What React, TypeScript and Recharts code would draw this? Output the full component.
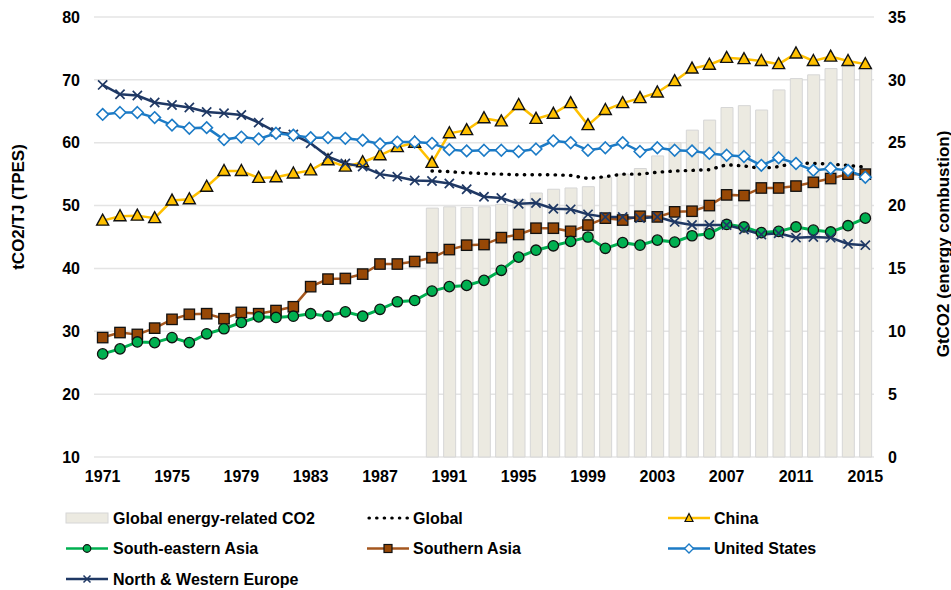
import React from 'react';
import { ComposedChart, Bar, Line, XAxis, YAxis, CartesianGrid } from 'recharts';

const years = [
  1971, 1972, 1973, 1974, 1975, 1976, 1977, 1978, 1979, 1980,
  1981, 1982, 1983, 1984, 1985, 1986, 1987, 1988, 1989, 1990,
  1991, 1992, 1993, 1994, 1995, 1996, 1997, 1998, 1999, 2000,
  2001, 2002, 2003, 2004, 2005, 2006, 2007, 2008, 2009, 2010,
  2011, 2012, 2013, 2014, 2015,
];

// GtCO2 (energy combustion), right axis
const globalCO2 = [
  null, null, null, null, null, null, null, null, null, null,
  null, null, null, null, null, null, null, null, null, 19.8,
  19.9, 19.85, 19.9, 20.1, 20.5, 21.0, 21.3, 21.4, 21.5, 22.25,
  22.5, 22.95, 23.95, 25.0, 26.0, 26.8, 27.8, 27.95, 27.6, 29.2,
  30.1, 30.4, 30.9, 31.05, 31.0,
];

// tCO2/TJ (TPES), left axis
const globalIntensity = [
  null, null, null, null, null, null, null, null, null, null,
  null, null, null, null, null, null, null, null, null, 55.5,
  55.4, 55.2, 55.1, 55.0, 54.9, 54.9, 54.9, 54.8, 54.3, 54.6,
  55.0, 55.0, 55.3, 55.5, 55.6, 55.7, 56.5, 56.3, 55.9, 56.2,
  56.8, 56.7, 56.6, 56.4, 56.1,
];

const china = [
  47.6, 48.3, 48.4, 48.0, 50.8, 51.0, 53.0, 55.5, 55.5, 54.4,
  54.5, 55.1, 55.6, 57.2, 56.2, 56.9, 58.0, 59.3, 60.0, 56.8,
  61.5, 62.0, 63.9, 63.4, 66.0, 63.8, 64.6, 66.3, 62.8, 65.2,
  66.3, 67.1, 68.0, 69.8, 71.8, 72.4, 73.5, 73.3, 73.0, 72.5,
  74.2, 73.0, 73.7, 73.0, 72.5,
];

const southEasternAsia = [
  26.4, 27.2, 28.3, 28.2, 29.0, 28.2, 29.6, 30.4, 31.4, 32.3,
  32.2, 32.4, 32.8, 32.4, 33.1, 32.4, 33.5, 34.7, 34.9, 36.4,
  37.1, 37.3, 38.1, 39.7, 41.8, 42.9, 43.6, 44.3, 45.0, 43.2,
  44.1, 43.7, 44.5, 44.2, 45.2, 45.5, 47.0, 46.6, 45.7, 45.9,
  46.6, 46.1, 45.8, 46.8, 48.0,
];

const southernAsia = [
  29.0, 29.8, 29.5, 30.5, 31.9, 32.7, 32.8, 32.0, 33.0, 32.8,
  33.3, 33.9, 37.1, 38.3, 38.4, 39.1, 40.7, 40.7, 41.1, 41.7,
  43.0, 43.7, 43.8, 44.9, 45.4, 46.4, 46.4, 45.9, 46.9, 48.0,
  47.7, 48.3, 48.2, 49.0, 49.1, 50.0, 51.7, 51.6, 52.8, 52.8,
  53.1, 53.7, 54.3, 55.0, 55.0,
];

const unitedStates = [
  64.5, 64.8, 64.8, 64.0, 62.8, 62.3, 62.4, 60.5, 60.9, 60.6,
  61.5, 61.2, 60.8, 60.8, 60.7, 60.4, 59.8, 60.1, 60.1, 59.9,
  58.9, 58.7, 58.8, 58.8, 58.6, 59.0, 60.3, 60.0, 58.8, 59.2,
  60.0, 58.6, 59.2, 58.8, 58.7, 58.3, 58.0, 57.8, 56.4, 57.6,
  56.7, 55.6, 55.9, 55.6, 54.5,
];

const northWesternEurope = [
  69.2, 67.7, 67.5, 66.4, 66.0, 65.6, 64.9, 64.7, 64.4, 63.2,
  61.7, 61.3, 59.9, 57.8, 56.7, 56.2, 55.0, 54.6, 54.0, 53.9,
  53.5, 52.6, 51.4, 51.2, 50.3, 50.4, 49.5, 49.4, 48.6, 48.2,
  48.2, 48.0, 48.2, 47.4, 46.9, 46.9, 46.9, 46.2, 45.4, 45.6,
  44.9, 45.0, 44.9, 43.9, 43.7,
];

const leftTicks = [10, 20, 30, 40, 50, 60, 70, 80];
const rightTicks = [0, 5, 10, 15, 20, 25, 30, 35];

const data = years.map((year, i) => ({
  year,
  co2: globalCO2[i],
  global: globalIntensity[i],
  china: china[i],
  sea: southEasternAsia[i],
  sa: southernAsia[i],
  us: unitedStates[i],
  eu: northWesternEurope[i],
}));

const FONT = '"Liberation Sans", Arial, sans-serif';
const C_CHINA = '#FFC000';
const C_SEA = '#00B050';
const C_SA_LINE = '#A5571F';
const C_SA_FILL = '#974806';
const C_US = '#1C7BC6';
const C_EU = '#1F3864';
const C_BAR = '#ECEAE1';
const C_BAR_STROKE = '#D6D6D6';

const ok = (p: any) => p && typeof p.cx === 'number' && typeof p.cy === 'number' && !isNaN(p.cy) && p.value != null;

const TriangleDot = (p: any) => {
  if (!ok(p)) return <g key={`t${p.index}`} />;
  const { cx, cy } = p;
  return (
    <polygon key={`t${p.index}`} points={`${cx},${cy - 6.5} ${cx - 6},${cy + 4.5} ${cx + 6},${cy + 4.5}`}
      fill={C_CHINA} stroke="#111" strokeWidth={1.4} strokeLinejoin="miter" />
  );
};
const CircleDot = (p: any) => {
  if (!ok(p)) return <g key={`c${p.index}`} />;
  return <circle key={`c${p.index}`} cx={p.cx} cy={p.cy} r={5.2} fill={C_SEA} stroke="#111" strokeWidth={1.3} />;
};
const SquareDot = (p: any) => {
  if (!ok(p)) return <g key={`s${p.index}`} />;
  return <rect key={`s${p.index}`} x={p.cx - 5.2} y={p.cy - 5.2} width={10.4} height={10.4} fill={C_SA_FILL} stroke="#111" strokeWidth={1.3} />;
};
const DiamondDot = (p: any) => {
  if (!ok(p)) return <g key={`d${p.index}`} />;
  const { cx, cy } = p;
  return <polygon key={`d${p.index}`} points={`${cx},${cy - 5.8} ${cx + 5.8},${cy} ${cx},${cy + 5.8} ${cx - 5.8},${cy}`} fill="#fff" stroke={C_US} strokeWidth={1.6} />;
};
const CrossDot = (p: any) => {
  if (!ok(p)) return <g key={`x${p.index}`} />;
  const { cx, cy } = p;
  const h = 4.6;
  return (
    <path key={`x${p.index}`} d={`M${cx - h},${cy - h}L${cx + h},${cy + h}M${cx - h},${cy + h}L${cx + h},${cy - h}`} stroke={C_EU} strokeWidth={1.7} fill="none" />
  );
};

const tickStyle = { fontSize: 16, fontWeight: 700, fill: '#000', fontFamily: FONT };

const legendRows = [518, 548.5, 579];
const legendCols = [66, 367, 668];

function Legend() {
  const sw = 42;
  const txt = (x: number, y: number, s: string) => (
    <text x={x} y={y} dominantBaseline="central" fontSize={16} fontWeight={700} fontFamily={FONT} fill="#000">{s}</text>
  );
  const lineSw = (x: number, y: number, color: string) => (
    <line x1={x} x2={x + sw} y1={y} y2={y} stroke={color} strokeWidth={2.5} />
  );
  const [r1, r2, r3] = legendRows;
  const [c1, c2, c3] = legendCols;
  return (
    <g>
      <rect x={c1} y={r1 - 5} width={sw} height={10} fill={C_BAR} stroke={C_BAR_STROKE} strokeWidth={1} />
      {txt(c1 + 47, r1, 'Global energy-related CO2')}

      <line x1={c2 + 2} x2={c2 + sw} y1={r1} y2={r1} stroke="#000" strokeWidth={3.2} strokeDasharray="0.4 7.2" strokeLinecap="round" />
      {txt(c2 + 46, r1, 'Global')}

      {lineSw(c3, r1, C_CHINA)}
      <polygon points={`${c3 + 21},${r1 - 4.5} ${c3 + 17},${r1 + 3.5} ${c3 + 25},${r1 + 3.5}`} fill={C_CHINA} stroke="#111" strokeWidth={1.2} />
      {txt(c3 + 46, r1, 'China')}

      {lineSw(c1, r2, C_SEA)}
      <circle cx={c1 + 21} cy={r2} r={3.8} fill={C_SEA} stroke="#111" strokeWidth={1.2} />
      {txt(c1 + 47, r2, 'South-eastern Asia')}

      {lineSw(c2, r2, C_SA_LINE)}
      <rect x={c2 + 17} y={r2 - 4} width={8} height={8} fill={C_SA_FILL} stroke="#111" strokeWidth={1.2} />
      {txt(c2 + 46, r2, 'Southern Asia')}

      {lineSw(c3, r2, C_US)}
      <polygon points={`${c3 + 21},${r2 - 4.5} ${c3 + 25.5},${r2} ${c3 + 21},${r2 + 4.5} ${c3 + 16.5},${r2}`} fill="#fff" stroke={C_US} strokeWidth={1.4} />
      {txt(c3 + 46, r2, 'United States')}

      {lineSw(c1, r3, C_EU)}
      <path d={`M${c1 + 17.5},${r3 - 3.5}L${c1 + 24.5},${r3 + 3.5}M${c1 + 17.5},${r3 + 3.5}L${c1 + 24.5},${r3 - 3.5}`} stroke={C_EU} strokeWidth={1.5} />
      {txt(c1 + 47, r3, 'North & Western Europe')}
    </g>
  );
}

export default function App() {
  return (
    <div style={{ position: 'absolute', left: 0, top: 0, width: 951, height: 590, background: '#fff' }}>
      <ComposedChart
        width={951}
        height={590}
        data={data}
        margin={{ top: 17, right: 0, bottom: 103, left: 0 }}
        style={{ fontFamily: FONT }}
      >
        <CartesianGrid yAxisId="left" vertical={false} stroke="#E4E4E4" strokeWidth={1.5} />
        <XAxis
          dataKey="year"
          interval={3}
          axisLine={false}
          tickLine={false}
          tickSize={0}
          tickMargin={14}
          height={30}
          tick={tickStyle}
        />
        <YAxis
          yAxisId="left"
          orientation="left"
          domain={[10, 80]}
          ticks={leftTicks}
          width={94}
          axisLine={false}
          tickLine={false}
          tickSize={0}
          tickMargin={14}
          tick={tickStyle}
        />
        <YAxis
          yAxisId="right"
          orientation="right"
          domain={[0, 35]}
          ticks={rightTicks}
          width={77}
          axisLine={false}
          tickLine={false}
          tickSize={0}
          tickMargin={14}
          tick={{ ...tickStyle, textAnchor: 'start' }}
        />
        <Bar yAxisId="right" dataKey="co2" barSize={12} fill={C_BAR} stroke={C_BAR_STROKE} strokeWidth={1} isAnimationActive={false} />
        <Line yAxisId="left" dataKey="global" stroke="#000" strokeWidth={3.4} strokeDasharray="0.4 7.3" strokeLinecap="round" dot={false} activeDot={false} isAnimationActive={false} />
        <Line yAxisId="left" dataKey="china" stroke={C_CHINA} strokeWidth={2.5} dot={TriangleDot} activeDot={false} isAnimationActive={false} />
        <Line yAxisId="left" dataKey="sa" stroke={C_SA_LINE} strokeWidth={2.5} dot={SquareDot} activeDot={false} isAnimationActive={false} />
        <Line yAxisId="left" dataKey="sea" stroke={C_SEA} strokeWidth={3} dot={CircleDot} activeDot={false} isAnimationActive={false} />
        <Line yAxisId="left" dataKey="eu" stroke={C_EU} strokeWidth={2.5} dot={CrossDot} activeDot={false} isAnimationActive={false} />
        <Line yAxisId="left" dataKey="us" stroke={C_US} strokeWidth={2.5} dot={DiamondDot} activeDot={false} isAnimationActive={false} />
      </ComposedChart>
      <svg width={951} height={590} style={{ position: 'absolute', left: 0, top: 0, pointerEvents: 'none' }}>
        <text x={18} y={207} transform="rotate(-90 18 207)" textAnchor="middle" dominantBaseline="central" fontSize={17} fontWeight={700} fontFamily={FONT} fill="#000">tCO2/TJ (TPES)</text>
        <text x={943} y={244} transform="rotate(-90 943 244)" textAnchor="middle" dominantBaseline="central" fontSize={17} fontWeight={700} fontFamily={FONT} fill="#000">GtCO2 (energy combustion)</text>
        <Legend />
      </svg>
    </div>
  );
}
